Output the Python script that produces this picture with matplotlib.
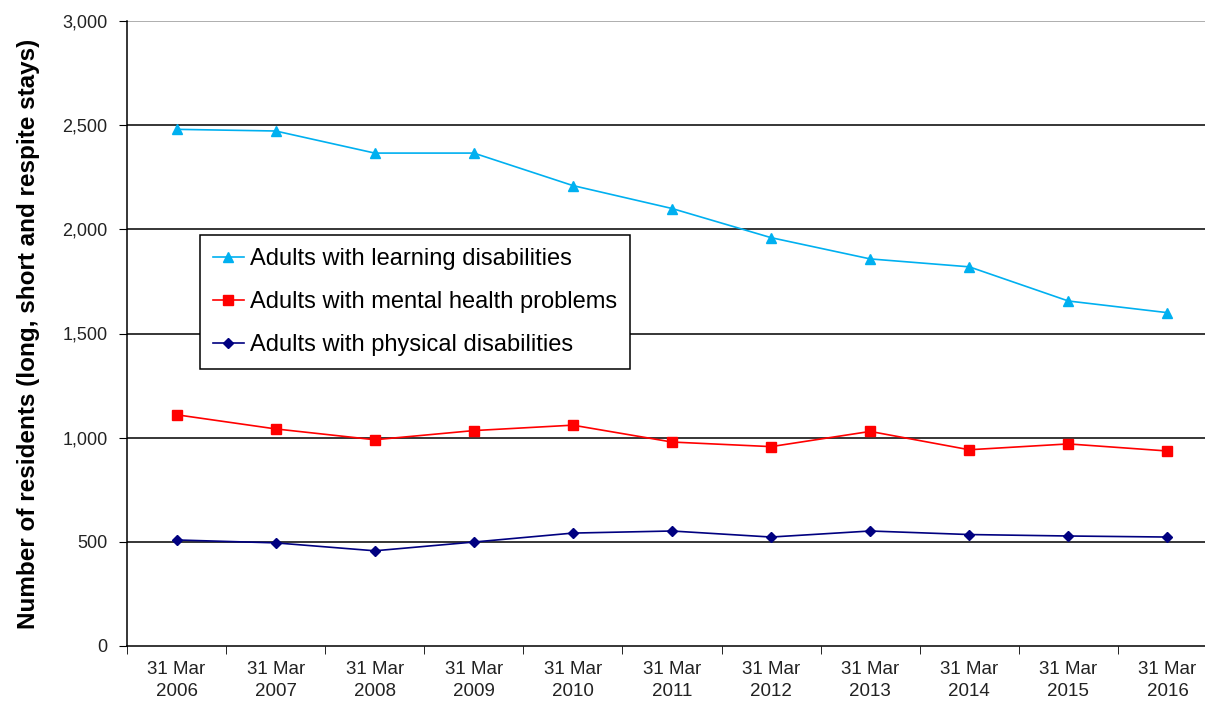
import numpy as np
import matplotlib.pyplot as plt

plt.rcParams['font.family'] = ['Liberation Sans', 'DejaVu Sans']

years = ['31 Mar\n2006', '31 Mar\n2007', '31 Mar\n2008', '31 Mar\n2009', '31 Mar\n2010', '31 Mar\n2011',
         '31 Mar\n2012', '31 Mar\n2013', '31 Mar\n2014', '31 Mar\n2015', '31 Mar\n2016']
learning = [2480, 2472, 2366, 2366, 2210, 2100, 1960, 1858, 1820, 1656, 1600]
mental = [1110, 1042, 990, 1034, 1060, 979, 957, 1030, 942, 970, 936]
physical = [509, 495, 457, 499, 542, 552, 523, 552, 535, 528, 523]
y_ticks = [0, 500, 1000, 1500, 2000, 2500, 3000]

fig = plt.figure(figsize=(12.05, 7.02), dpi=100)
ax = fig.add_axes([127/1205, 56/702, 1090/1205, 625/702])

x = np.arange(len(years))
ax.plot(x, learning, '-^', color='#00b0f0', lw=1.2, ms=7, label='Adults with learning disabilities', zorder=3)
ax.plot(x, mental, '-s', color='#ff0000', lw=1.2, ms=6.5, label='Adults with mental health problems', zorder=3)
ax.plot(x, physical, '-D', color='#000080', lw=1.2, ms=5, label='Adults with physical disabilities', zorder=3)

ax.set_xlim(-0.5, len(years) - 0.5)
ax.set_ylim(0, 3000)
ax.set_yticks(y_ticks)
ax.set_yticklabels([f'{v:,}' for v in y_ticks], fontsize=13, color='#222222')
for v in y_ticks[1:]:
    ax.axhline(v, color='black' if v < 3000 else '#999999', lw=1.1, zorder=1)

ax.set_xticks(x)
ax.set_xticklabels(years, fontsize=13.5, color='#222222', linespacing=1.35)
ax.tick_params(axis='x', length=0, pad=11)
ax.set_xticks(np.arange(-0.5, len(years)), minor=True)
ax.tick_params(axis='x', which='minor', length=6, direction='out')
ax.tick_params(axis='y', length=6, direction='out', pad=8)

for s in ['top', 'right']:
    ax.spines[s].set_visible(False)
ax.spines['left'].set_linewidth(1.1)
ax.spines['bottom'].set_linewidth(1.1)

ax.set_ylabel('Number of residents (long, short and respite stays)', fontsize=17.5, fontweight='bold', labelpad=16)

leg = ax.legend(loc='upper left', bbox_to_anchor=(73/1090, (646-235)/625), fontsize=17, frameon=True,
                fancybox=False, edgecolor='black', framealpha=1, handlelength=1.3, handletextpad=0.25,
                labelspacing=0.9, borderpad=0.55, borderaxespad=0)
leg.get_frame().set_linewidth(1.1)
leg.set_zorder(4)

fig.savefig('out.png', dpi=100)
